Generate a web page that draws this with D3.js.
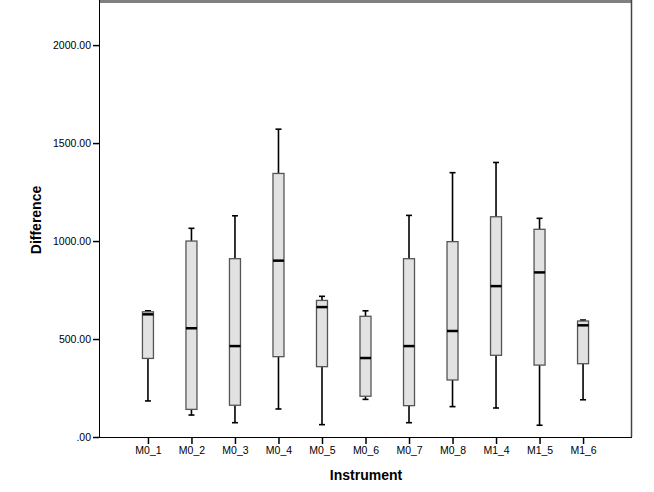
<!DOCTYPE html>
<html>
<head>
<meta charset="utf-8">
<script src="https://cdn.jsdelivr.net/npm/d3@7"></script>
<style>
  html, body { margin: 0; padding: 0; background: #fff; }
  svg { display: block; }
  text { font-family: Arial, "Liberation Sans", sans-serif; }
</style>
</head>
<body>
<div id="chart"></div>
<script>
const categories = ["M0_1","M0_2","M0_3","M0_4","M0_5","M0_6","M0_7","M0_8","M1_4","M1_5","M1_6"];
const mins    = [184, 112,  73, 143,  63, 192,  73, 155, 148,  60, 190];
const q1s     = [401, 141, 162, 410, 359, 208, 160, 291, 417, 367, 374];
const medians = [626, 555, 464, 900, 663, 403, 464, 541, 770, 840, 570];
const q3s     = [639, 1000, 910, 1345, 697, 616, 910, 997, 1124, 1060, 592];
const maxs    = [644, 1065, 1129, 1571, 718, 644, 1131, 1349, 1401, 1116, 597];
const yTicks  = [0, 500, 1000, 1500, 2000];

const W = 654, H = 492;
const plotL = 99, plotR = 632, plotT = 2, plotB = 437;

const svg = d3.select("#chart").append("svg").attr("width", W).attr("height", H);

const x = d3.scalePoint().domain(categories).range([plotL, plotR]).padding(1.125);
const y = d3.scaleLinear().domain([0, 2220]).range([plotB, plotT]);

const data = categories.map((c, i) => ({c, min: mins[i], q1: q1s[i], med: medians[i], q3: q3s[i], max: maxs[i]}));

// frame: top grey band and right border
svg.append("rect").attr("x", plotL).attr("y", 0).attr("width", plotR - plotL).attr("height", 3).attr("fill", "#808080");
svg.append("line").attr("x1", plotR - 0.5).attr("x2", plotR - 0.5).attr("y1", 0).attr("y2", plotB)
  .attr("stroke", "#444").attr("stroke-width", 1.5);

// Y axis
const yAxis = d3.axisLeft(y).tickValues(yTicks).tickSize(6).tickPadding(2)
  .tickFormat(d => d === 0 ? ".00" : d3.format(".2f")(d));
const gy = svg.append("g").attr("transform", `translate(${plotL},0)`).call(yAxis);
gy.select(".domain").attr("d", `M0.5,0V${plotB}`).attr("stroke", "#000");
gy.selectAll(".tick line").attr("stroke", "#000").attr("stroke-width", 1.5);
gy.selectAll(".tick text").attr("font-size", "10.5px").attr("fill", "#000");

// X axis
const xAxis = d3.axisBottom(x).tickSize(7).tickPadding(3);
const gx = svg.append("g").attr("transform", `translate(0,${plotB})`).call(xAxis);
gx.select(".domain").attr("d", `M${plotL},0.5H${plotR}`).attr("stroke", "#000");
gx.selectAll(".tick line").attr("stroke", "#000").attr("stroke-width", 1.5);
gx.selectAll(".tick text").attr("font-size", "10.5px").attr("fill", "#000");

// boxes
const bw = 11, cw = 6;
const g = svg.append("g").selectAll("g").data(data).join("g")
  .attr("transform", d => `translate(${x(d.c)},0)`);

g.append("line").attr("x1", 0).attr("x2", 0).attr("y1", d => y(d.max)).attr("y2", d => y(d.q3))
  .attr("stroke", "#000").attr("stroke-width", 1.6);
g.append("line").attr("x1", 0).attr("x2", 0).attr("y1", d => y(d.q1)).attr("y2", d => y(d.min))
  .attr("stroke", "#000").attr("stroke-width", 1.6);
g.append("line").attr("x1", -cw/2).attr("x2", cw/2).attr("y1", d => y(d.max)).attr("y2", d => y(d.max))
  .attr("stroke", "#000").attr("stroke-width", 1.6);
g.append("line").attr("x1", -cw/2).attr("x2", cw/2).attr("y1", d => y(d.min)).attr("y2", d => y(d.min))
  .attr("stroke", "#000").attr("stroke-width", 1.6);
g.append("rect").attr("x", -bw/2).attr("width", bw)
  .attr("y", d => y(d.q3)).attr("height", d => y(d.q1) - y(d.q3))
  .attr("fill", "#e2e2e2").attr("stroke", "#555").attr("stroke-width", 1.3);
g.append("line").attr("x1", -bw/2).attr("x2", bw/2).attr("y1", d => y(d.med)).attr("y2", d => y(d.med))
  .attr("stroke", "#000").attr("stroke-width", 2.5);

// axis titles
svg.append("text").attr("x", 366).attr("y", 480).attr("text-anchor", "middle")
  .attr("font-size", "14px").attr("font-weight", "bold").text("Instrument");
svg.append("text").attr("transform", "translate(41,220) rotate(-90)").attr("text-anchor", "middle")
  .attr("font-size", "14px").attr("font-weight", "bold").text("Difference");
</script>
</body>
</html>
